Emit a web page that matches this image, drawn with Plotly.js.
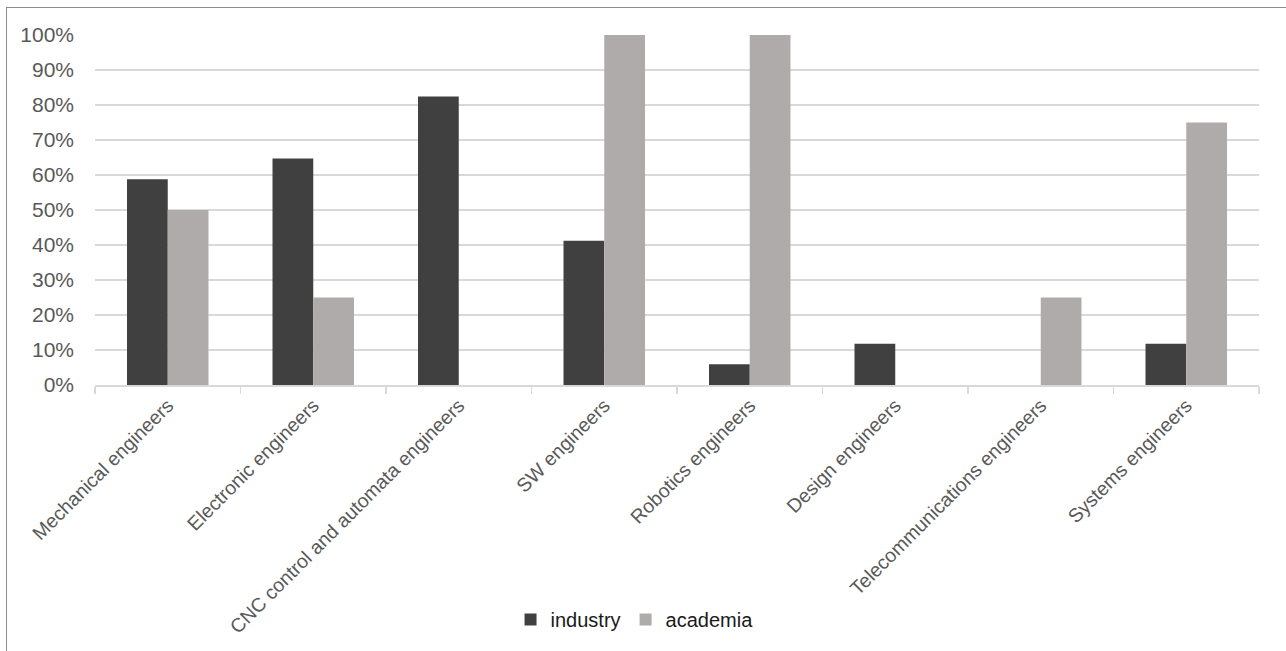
<!DOCTYPE html>
<html>
<head>
<meta charset="utf-8">
<script src="https://cdn.plot.ly/plotly-3.0.1.min.js"></script>
<style>
  html, body { margin: 0; padding: 0; background: #fff; overflow: hidden; }
  #chart { width: 1286px; height: 651px; }
  #frame { position: absolute; left: 6px; top: 7px; width: 1400px; height: 800px;
           border-left: 1px solid #8c8c8c; border-top: 1px solid #8c8c8c; pointer-events: none; }
</style>
</head>
<body>
<div id="chart"></div>
<div id="frame"></div>
<script>
const categories = [
  "Mechanical engineers",
  "Electronic engineers",
  "CNC control and automata engineers",
  "SW engineers",
  "Robotics engineers",
  "Design engineers",
  "Telecommunications engineers",
  "Systems engineers"
];
const industry = [0.588, 0.647, 0.824, 0.412, 0.059, 0.118, 0, 0.118];
const academia = [0.50, 0.25, 0, 1.00, 1.00, 0, 0.25, 0.75];
const yTicks = [0, 0.1, 0.2, 0.3, 0.4, 0.5, 0.6, 0.7, 0.8, 0.9, 1.0];

const FONT = '"Liberation Sans", Arial, sans-serif';

const traces = [
  { type: 'bar', name: 'industry', x: categories, y: industry,
    marker: { color: '#404040', line: { width: 0 } }, hoverinfo: 'skip' },
  { type: 'bar', name: 'academia', x: categories, y: academia,
    marker: { color: '#AFABAB', line: { width: 0 } }, hoverinfo: 'skip' }
];

const layout = {
  width: 1286, height: 651,
  margin: { l: 95, r: 27, t: 35, b: 266, autoexpand: false },
  paper_bgcolor: '#fff', plot_bgcolor: '#fff',
  barmode: 'group', bargap: 0.44, bargroupgap: 0,
  font: { family: FONT, color: '#595959', size: 20 },
  showlegend: true,
  legend: { orientation: 'h', x: 0.357, xanchor: 'left', y: -0.67, yanchor: 'middle',
            font: { family: FONT, size: 20, color: '#1a1a1a' }, itemwidth: 30, tracegroupgap: 0 },
  xaxis: {
    type: 'category', tickangle: -45, automargin: false,
    showgrid: false, showline: true, linecolor: '#D9D9D9', linewidth: 1.5,
    ticks: 'outside', ticklen: 7, tickcolor: '#D9D9D9', tickwidth: 1.5, tickson: 'boundaries',
    tickfont: { family: FONT, size: 19.5, color: '#595959' }
  },
  yaxis: {
    range: [0, 1], tickvals: yTicks, tickformat: '.0%', automargin: false,
    showgrid: true, gridcolor: '#D9D9D9', gridwidth: 1.5, zeroline: false, showline: false,
    ticks: '', ticklabelstandoff: 20,
    tickfont: { family: FONT, size: 21, color: '#595959' }
  }
};

Plotly.newPlot('chart', traces, layout, { staticPlot: true, displayModeBar: false });
</script>
</body>
</html>
